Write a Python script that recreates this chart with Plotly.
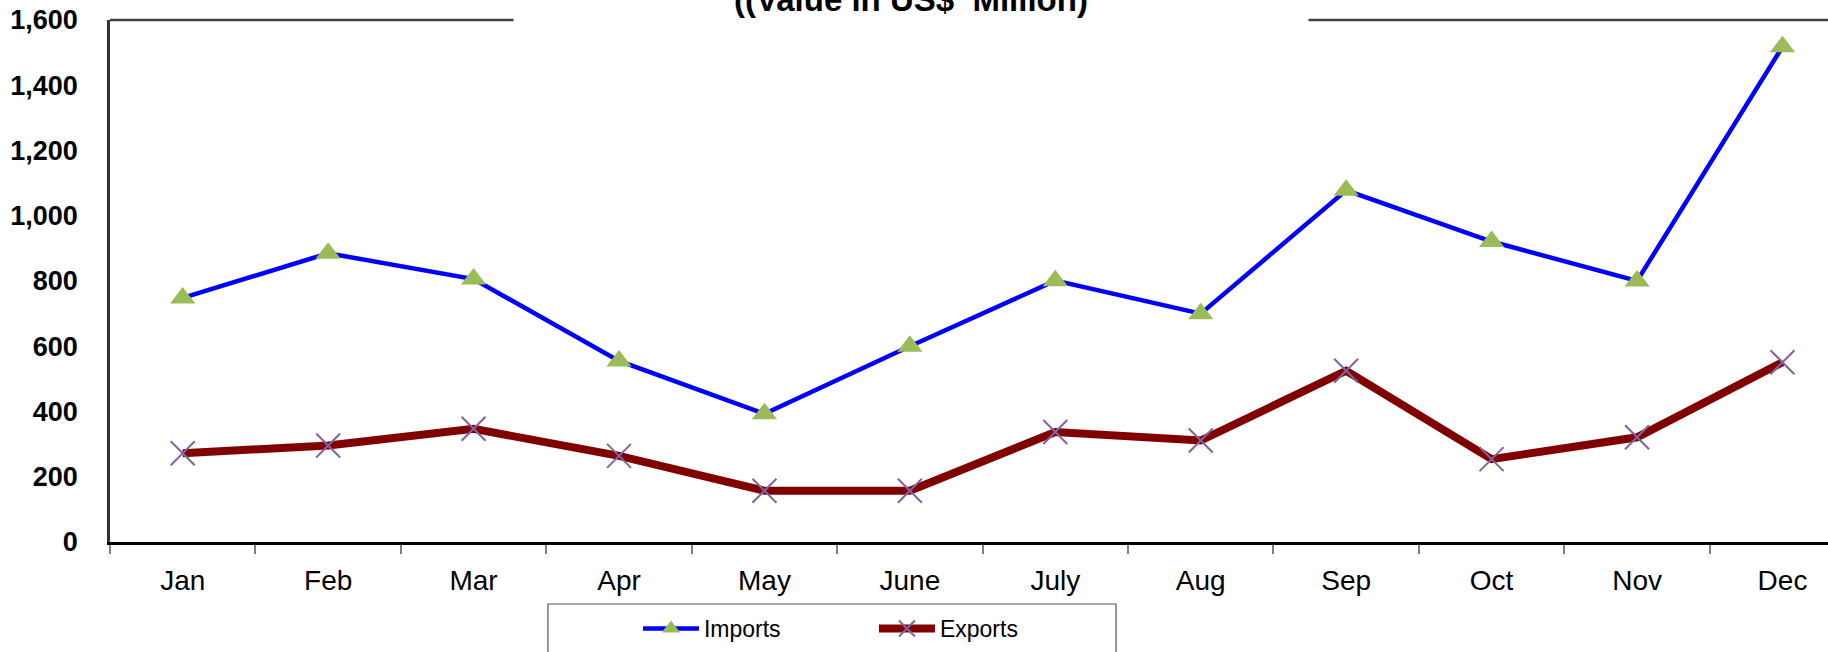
import plotly.graph_objects as go

months = ["Jan", "Feb", "Mar", "Apr", "May", "June", "July", "Aug", "Sep", "Oct", "Nov", "Dec"]
imports = [748, 885, 806, 555, 393, 600, 801, 700, 1078, 921, 800, 1518]
exports = [272, 296, 347, 264, 157, 157, 337, 311, 525, 254, 321, 551]
y_ticks = [0, 200, 400, 600, 800, 1000, 1200, 1400, 1600]
title_text = "((Value in US$  Million)"

SANS = "Liberation Sans, Arial, sans-serif"

fig = go.Figure()
fig.add_trace(go.Scatter(
    x=months, y=imports, name="Imports", mode="lines+markers",
    line=dict(color="#0000FF", width=4.5),
    marker=dict(symbol="triangle-up", size=22, color="#9BBB59", line=dict(width=0)),
))
fig.add_trace(go.Scatter(
    x=months, y=exports, name="Exports", mode="lines+markers",
    line=dict(color="#800000", width=8),
    marker=dict(symbol="x-thin", size=24, color="#8064A2", line=dict(width=2, color="#8064A2")),
))

fig.update_layout(
    width=1828, height=652,
    margin=dict(l=110, r=0, t=20, b=110, autoexpand=False),
    paper_bgcolor="white", plot_bgcolor="white",
    showlegend=True,
    legend=dict(
        orientation="h", x=0.3073, xanchor="left", y=-0.1246, yanchor="top",
        font=dict(family=SANS, size=23, color="black"),
        itemwidth=56, entrywidth=165, bgcolor="rgba(0,0,0,0)", borderwidth=0,
        traceorder="normal",
    ),
    xaxis=dict(
        type="category", categoryarray=months, range=[-0.5, 11.313],
        showline=True, linecolor="black", linewidth=3,
        ticks="outside", tickson="boundaries", ticklen=9, tickwidth=1.5, tickcolor="#808080",
        ticklabelstandoff=11,
        tickfont=dict(family=SANS, size=28, color="black"),
        showgrid=False, zeroline=False, fixedrange=True,
    ),
    yaxis=dict(
        range=[0, 1600], tickvals=y_ticks, tickformat=",",
        showline=True, linecolor="#333333", linewidth=2.5,
        ticks="", ticklabelstandoff=24,
        tickfont=dict(family=SANS, size=27, color="black", weight="bold"),
        showgrid=False, zeroline=False, fixedrange=True,
    ),
    shapes=[
        dict(type="line", xref="paper", yref="paper", x0=0, x1=1, y0=1, y1=1,
             line=dict(color="#404040", width=2.5)),
        dict(type="rect", xref="paper", yref="paper", x0=0.2549, x1=0.5856, y0=-0.1188, y1=-0.30,
             line=dict(color="#555555", width=1.2), fillcolor="rgba(0,0,0,0)"),
    ],
    annotations=[
        dict(text="<b>" + title_text + "</b>", xref="paper", yref="paper",
             x=0.4662, y=1.040, xanchor="center", yanchor="middle",
             width=792, height=44, bgcolor="white", showarrow=False,
             font=dict(family=SANS, size=33, color="black")),
    ],
)

fig.write_html("out.html", config={"displayModeBar": False},
               post_script="document.body.style.margin='0px';")
